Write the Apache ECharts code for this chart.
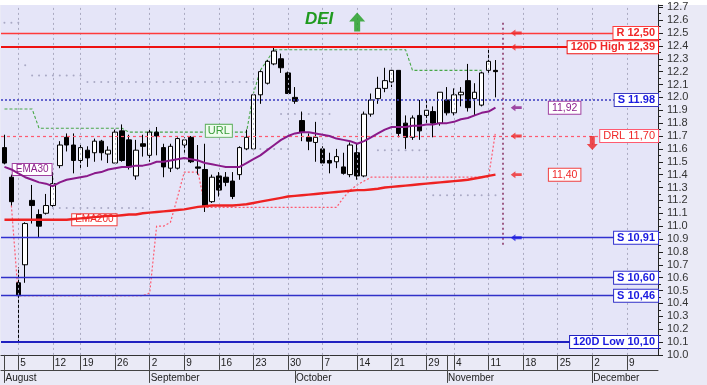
<!DOCTYPE html>
<html><head><meta charset="utf-8">
<script src="https://cdn.jsdelivr.net/npm/echarts@6/dist/echarts.min.js"></script>
<style>html,body{margin:0;padding:0;background:#fff}#c{width:707px;height:385px}</style>
</head><body><div id="c"></div>
<script>
// ---------- DATA ----------
const dates = [
 '2013-08-01','2013-08-02','2013-08-05','2013-08-06','2013-08-07','2013-08-08','2013-08-09','2013-08-12','2013-08-13','2013-08-14',
 '2013-08-15','2013-08-19','2013-08-20','2013-08-21','2013-08-22','2013-08-23','2013-08-26','2013-08-27','2013-08-28','2013-08-29',
 '2013-08-30','2013-09-02','2013-09-03','2013-09-04','2013-09-05','2013-09-06','2013-09-09','2013-09-10','2013-09-11','2013-09-12',
 '2013-09-13','2013-09-16','2013-09-17','2013-09-18','2013-09-19','2013-09-20','2013-09-23','2013-09-24','2013-09-25','2013-09-26',
 '2013-09-27','2013-09-30','2013-10-01','2013-10-02','2013-10-03','2013-10-04','2013-10-07','2013-10-08','2013-10-09','2013-10-10',
 '2013-10-11','2013-10-14','2013-10-15','2013-10-16','2013-10-17','2013-10-18','2013-10-21','2013-10-22','2013-10-23','2013-10-24',
 '2013-10-25','2013-10-29','2013-10-30','2013-10-31','2013-11-01','2013-11-04','2013-11-05','2013-11-06','2013-11-07','2013-11-08',
 '2013-11-11','2013-11-12','2013-11-13','2013-11-14','2013-11-15','2013-11-18','2013-11-19','2013-11-20','2013-11-21','2013-11-22',
 '2013-11-25','2013-11-26','2013-11-27','2013-11-28','2013-11-29','2013-12-02','2013-12-03','2013-12-04','2013-12-05','2013-12-06',
 '2013-12-09','2013-12-10','2013-12-11','2013-12-12','2013-12-13'
];
// [open, close, low, high]
const ohlc = [
 [11.61,11.49,11.48,11.71],[11.38,11.19,11.16,11.40],[10.56,10.46,10.10,10.68],[10.70,11.02,10.56,11.03],[11.20,11.16,11.02,11.32],
 [11.09,11.00,10.91,11.13],[11.10,11.16,11.09,11.25],[11.16,11.33,11.15,11.42],[11.47,11.63,11.45,11.66],[11.69,11.63,11.58,11.72],
 [11.63,11.51,11.41,11.72],[11.51,11.61,11.45,11.63],[11.59,11.53,11.46,11.62],[11.57,11.66,11.50,11.68],[11.66,11.57,11.51,11.67],
 [11.56,11.59,11.49,11.62],[11.49,11.73,11.49,11.75],[11.74,11.51,11.50,11.79],[11.67,11.46,11.44,11.71],[11.39,11.59,11.36,11.67],
 [11.64,11.62,11.54,11.71],[11.55,11.73,11.50,11.75],[11.73,11.70,11.55,11.77],[11.61,11.46,11.38,11.64],[11.45,11.62,11.42,11.64],
 [11.45,11.68,11.44,11.69],[11.63,11.67,11.57,11.69],[11.69,11.50,11.49,11.70],[11.46,11.45,11.40,11.63],[11.44,11.16,11.11,11.64],
 [11.19,11.38,11.18,11.40],[11.39,11.28,11.23,11.42],[11.38,11.34,11.31,11.42],[11.35,11.23,11.21,11.42],[11.40,11.61,11.36,11.62],
 [11.60,11.69,11.59,11.75],[11.60,12.02,11.59,12.03],[12.02,12.20,11.95,12.21],[12.11,12.28,12.10,12.29],[12.26,12.36,12.25,12.39],
 [12.30,12.23,12.19,12.34],[12.19,12.03,12.03,12.20],[12.00,11.97,11.95,12.08],[11.82,11.73,11.66,11.89],[11.69,11.66,11.59,11.72],
 [11.65,11.69,11.50,11.81],[11.60,11.49,11.47,11.62],[11.51,11.49,11.41,11.57],[11.50,11.54,11.45,11.60],[11.46,11.41,11.40,11.57],
 [11.40,11.63,11.38,11.65],[11.57,11.39,11.36,11.64],[11.39,11.87,11.38,11.89],[11.87,11.98,11.85,12.03],[11.99,12.07,11.95,12.16],
 [12.07,12.13,12.04,12.23],[12.12,12.21,12.08,12.23],[12.21,11.72,11.69,12.21],[11.80,11.69,11.60,11.86],[11.69,11.84,11.67,11.86],
 [11.86,11.74,11.67,11.98],[11.86,11.90,11.80,11.98],[11.89,11.80,11.69,11.93],[11.80,12.04,11.78,12.04],[11.98,11.88,11.86,12.08],
 [11.88,12.02,11.86,12.07],[12.02,12.04,11.93,12.08],[12.13,11.92,11.89,12.26],[11.99,12.04,11.86,12.11],[11.94,12.19,11.93,12.20],
 [12.21,12.28,12.19,12.37],[12.21,12.20,12.00,12.29]
];
const ema30 = [
 11.46,11.44,11.41,11.38,11.36,11.34,11.33,11.31,11.34,11.36,
 11.37,11.38,11.39,11.41,11.42,11.44,11.45,11.46,11.46,11.47,
 11.47,11.48,11.50,11.50,11.51,11.52,11.53,11.52,11.51,11.49,
 11.48,11.47,11.46,11.46,11.46,11.49,11.52,11.55,11.59,11.63,
 11.67,11.70,11.72,11.73,11.73,11.72,11.71,11.70,11.68,11.67,
 11.66,11.64,11.66,11.69,11.72,11.75,11.77,11.77,11.77,11.78,
 11.78,11.79,11.79,11.80,11.80,11.81,11.83,11.84,11.86,11.88,
 11.89,11.92
];
const ema200 = [
 11.05,11.05,11.05,11.05,11.05,11.05,11.05,11.05,11.05,11.05,
 11.055,11.06,11.065,11.07,11.075,11.08,11.08,11.085,11.09,11.09,
 11.10,11.105,11.11,11.115,11.12,11.125,11.13,11.14,11.15,11.155,
 11.16,11.16,11.16,11.16,11.165,11.17,11.18,11.19,11.20,11.21,
 11.22,11.23,11.235,11.24,11.245,11.25,11.255,11.26,11.265,11.27,
 11.275,11.28,11.28,11.285,11.29,11.30,11.305,11.31,11.315,11.32,
 11.325,11.33,11.335,11.34,11.345,11.35,11.355,11.36,11.37,11.38,
 11.39,11.40
];
const urlLine = [
 11.91,11.91,11.91,11.91,11.91,11.76,11.76,11.76,11.76,11.76,
 11.76,11.76,11.76,11.76,11.76,11.76,11.76,11.76,11.73,11.73,
 11.73,11.73,11.73,11.73,11.73,11.73,11.73,11.73,11.73,11.73,
 11.73,11.73,11.73,11.73,11.73,11.73,12.03,12.21,12.29,12.37,
 12.37,12.37,12.37,12.37,12.37,12.37,12.37,12.37,12.37,12.37,
 12.37,12.37,12.37,12.37,12.37,12.37,12.37,12.37,12.37,12.21,
 12.21,12.21,12.21,12.21,12.21,12.21,12.21,12.21,12.21,12.21,
 null,null
];
const drlTrail = [
 null,11.16,10.46,10.46,10.46,10.46,10.46,10.46,10.46,10.46,
 10.46,10.46,10.46,10.46,10.46,10.46,10.46,10.46,10.46,10.46,
 10.46,10.48,11.00,11.00,11.03,11.22,11.42,11.42,11.42,11.145,
 11.145,11.145,11.145,11.145,11.145,11.145,11.145,11.145,11.145,11.145,
 11.145,11.145,11.145,11.145,11.145,11.145,11.145,11.145,11.145,11.22,
 11.28,11.32,11.35,11.38,11.38,11.38,11.38,11.38,11.38,11.38,
 11.38,11.38,11.38,11.38,11.38,11.38,11.38,11.38,11.38,11.38,
 11.38,11.73
];
const dotsUpper = [
 12.58,12.58,12.58,12.25,12.17,12.17,12.17,12.17,12.17,12.17,
 12.17,12.17,12.12,12.12,12.12,12.12,12.12,12.12,12.12,12.12,
 12.12,12.12,12.12,12.12,12.12,12.12,12.12,12.12,12.12,12.12,
 12.12,12.12,12.12,12.12,12.12,12.12,12.12,null,null,null,
 11.87,11.87,11.87,11.87,11.87,11.87,11.87,11.87,null,null,
 null,null,null,null,null,null,null,null,null,null,
 null,null,null,null,null,null,null,null,null,null,
 null,null
];
const dotsLower = [
 null,null,null,null,null,null,null,11.14,11.14,11.14,
 11.14,11.14,11.14,11.14,11.14,11.14,11.14,11.14,11.14,11.14,
 11.14,null,null,null,null,null,null,null,null,null,
 null,null,null,null,null,null,null,11.60,11.60,11.60,
 11.60,11.60,null,null,null,null,null,null,null,null,
 null,null,null,null,11.59,11.59,11.59,11.59,11.59,11.59,
 11.59,11.59,11.24,11.24,11.24,11.24,11.24,11.24,11.24,11.24,
 11.24,11.24
];
const levelValues = [12.50, 12.39, 11.98, 11.70, 10.91, 10.60, 10.46, 10.10];
const levelLabels = ['R 12,50', '120D High 12,39', 'S 11.98', 'DRL 11,70', 'S 10,91', 'S 10,60', 'S 10,46', '120D Low 10,10'];
const arrowLevels = [12.50, 12.39, 11.92, 11.70, 11.40, 10.91];
const lastPrice = 12.20;
const weekLabelDates = ['2013-08-05','2013-08-12','2013-08-19','2013-08-26','2013-09-02','2013-09-09','2013-09-16',
 '2013-09-23','2013-09-30','2013-10-07','2013-10-14','2013-10-21','2013-10-29','2013-11-04','2013-11-11','2013-11-18',
 '2013-11-25','2013-12-02','2013-12-09'];
const monthStartDates = ['2013-08-01','2013-09-02','2013-10-01','2013-11-01','2013-12-02'];
const monthNames = ['August','September','October','November','December'];
const todayDate = '2013-11-13';
const arrowDate = '2013-11-15';

// ---------- STYLE ----------
const FONT = '"Liberation Sans", Arial, sans-serif';
const RED = '#f02828', BLUE = '#2a2ac8', PURPLE = '#8c1f8c', GREEN = '#3a9e3a', PINK = '#ff5a70';
const levelStyles = [
 {line:{color:'#ff3a3a', width:1.3, type:'solid'}, text:RED, bold:true},
 {line:{color:'#ee1111', width:2, type:'solid'}, text:RED, bold:true},
 {line:{color:'#3a3ac0', width:1.5, type:[2,2]}, text:'#1a1ae0', bold:true},
 {line:{color:PINK, width:1.2, type:[3,3]}, text:RED, bold:false},
 {line:{color:'#3030d0', width:1.3, type:'solid'}, text:'#1a1ae0', bold:true},
 {line:{color:'#3030c8', width:1.3, type:'solid'}, text:'#1a1ae0', bold:true},
 {line:{color:'#3030c8', width:1.3, type:'solid'}, text:'#1a1ae0', bold:true},
 {line:{color:'#2020c0', width:2, type:'solid'}, text:'#1a1ae0', bold:true}
];
const arrowColors = [RED, RED, PURPLE, RED, RED, '#1a1ae0'];

const weekSet = new Set(weekLabelDates);
const row1Ticks = new Set([...weekLabelDates, '2013-08-01', '2013-11-01']);
const monthSet = new Set(monthStartDates);
const toPts = arr => arr.map((v,i)=> v==null ? null : [dates[i], v]).filter(p=>p);
const comma = v => v.toFixed(2).replace('.', ',');

const leftArrow = 'path://M0,5 L6,0 L6,3 L14,3 L14,7 L6,7 L6,10 Z';
const upArrow = 'path://M8,0 L16,9 L11,9 L11,19 L5,19 L5,9 L0,9 Z';
const downArrow = 'path://M3,0 L8,0 L8,8 L11,8 L5.5,14 L0,8 L3,8 Z';

const boxLabel = (color, border, size, bold) => ({
  show:true, position:'inside', color:color, fontSize:size, fontFamily:FONT,
  fontWeight: bold ? 'bold' : 'normal', backgroundColor:'#fff', borderColor:border, borderWidth:1,
  padding:[1,3,0,3]
});

const chart = echarts.init(document.getElementById('c'), null, {renderer:'canvas', width:707, height:385});
const option = {
  animation:false,
  backgroundColor:'#eaeaf6',
  textStyle:{fontFamily:FONT},
  title:{text:'DEI', left:305, top:11, padding:0,
    textStyle:{color:'#1f9a1f', fontStyle:'italic', fontWeight:'bold', fontSize:17, fontFamily:FONT}},
  graphic:[{type:'rect', silent:true, z:-1, shape:{x:0,y:0,width:707,height:5}, style:{fill:'#ffffff'}}],
  grid:{left:1, right:49, top:5, bottom:30.1, show:true, backgroundColor:'#e5e5f8', borderWidth:0},
  xAxis:[
    {type:'category', data:dates, boundaryGap:true, position:'bottom',
     axisLine:{show:true, lineStyle:{color:'#333', width:1}},
     axisTick:{show:true, alignWithLabel:true, length:15, interval:(i,v)=>row1Ticks.has(v), lineStyle:{color:'#444'}},
     axisLabel:{show:true, interval:(i,v)=>weekSet.has(v), formatter:v=>String(parseInt(v.slice(8),10)),
       align:'left', margin:3, padding:[0,0,0,2], fontSize:10, color:'#222', fontFamily:FONT},
     splitLine:{show:false}},
    {type:'category', data:dates, boundaryGap:true, position:'bottom', offset:15,
     axisLine:{show:true, lineStyle:{color:'#444', width:1}},
     axisTick:{show:true, alignWithLabel:true, length:13, interval:(i,v)=>monthSet.has(v), lineStyle:{color:'#444'}},
     axisLabel:{show:true, interval:(i,v)=>monthSet.has(v), formatter:v=>monthNames[monthStartDates.indexOf(v)],
       align:'left', margin:3, padding:[0,0,0,1], fontSize:10, color:'#222', fontFamily:FONT},
     splitLine:{show:false}}
  ],
  yAxis:{type:'value', position:'right', min:10.0, max:12.7175, interval:0.1,
    axisLine:{show:true, lineStyle:{color:'#222'}},
    axisTick:{show:true, length:5, lineStyle:{color:'#222'}},
    minorTick:{show:true, splitNumber:2, length:3, lineStyle:{color:'#222'}},
    axisLabel:{fontSize:11, color:'#333', margin:9, fontFamily:FONT,
      formatter:v=> Math.abs(v*10-Math.round(v*10))<1e-3 ? v.toFixed(1) : ''},
    splitLine:{show:false}},
  series:[
    // vertical grid lines + today line
    {type:'line', data:[], z:0, silent:true,
     markLine:{silent:true, symbol:['none','none'], animation:false, label:{show:false},
       lineStyle:{color:'#aaaac0', type:[2,3], width:1},
       data: weekLabelDates.map(d=>({xAxis:d})).concat([[
         {coord:[todayDate, 12.58], lineStyle:{color:'#8a3a6a', type:[2,3], width:1.6}},
         {coord:[todayDate, 10.85]}
       ]])}},
    // gray dots
    {type:'scatter', data:toPts(dotsUpper), symbol:'circle', symbolSize:2, z:1, silent:true, itemStyle:{color:'#9a9ab8'}},
    {type:'scatter', data:toPts(dotsLower), symbol:'circle', symbolSize:2, z:1, silent:true, itemStyle:{color:'#9a9ab8'}},
    // DRL trailing line
    {type:'line', data:drlTrail, symbol:'none', z:1, silent:true, connectNulls:false,
     lineStyle:{color:PINK, type:[2,2], width:1.2}},
    // URL line
    {type:'line', data:urlLine, symbol:'none', z:2, silent:true, connectNulls:false,
     lineStyle:{color:'#48a848', type:[3,2], width:1.1},
     markPoint:{silent:true, symbol:'rect', symbolSize:1, itemStyle:{color:'rgba(0,0,0,0)'},
       data:[{coord:[dates[31], 11.74], label:Object.assign(boxLabel(GREEN,'#60b060',11,false),{formatter:'URL', backgroundColor:'#effbee', padding:[1,2,0,2]})}]}},
    // candles
    {type:'candlestick', data:ohlc, barWidth:5, z:3, silent:true,
     itemStyle:{color:'#ffffff', color0:'#000000', borderColor:'#000000', borderColor0:'#000000', borderWidth:1},
     markLine:{silent:true, symbol:['none','none'], animation:false,
       data:[{yAxis:lastPrice, lineStyle:{opacity:0, width:0},
         label:{show:true, position:'end', distance:3, formatter:lastPrice.toFixed(5), backgroundColor:'#000',
           color:'#ff2a2a', fontSize:11, fontFamily:FONT, padding:[2,1,1,1]}}]}},
    // EMA200
    {type:'line', data:ema200, symbol:'none', z:5, silent:true, lineStyle:{color:'#ee2222', width:2.4},
     markPoint:{silent:true, symbol:'rect', symbolSize:1, itemStyle:{color:'rgba(0,0,0,0)'},
       data:[
         {coord:[dates[13], 11.05], label:Object.assign(boxLabel(RED,'#f04040',10,false),{formatter:'EMA200'})},
         {coord:[dates[81], ema200[ema200.length-1]], label:Object.assign(boxLabel(RED,'#f04040',10.5,false),{formatter:comma(ema200[ema200.length-1])})}
       ]}},
    // EMA30
    {type:'line', data:ema30, symbol:'none', z:5, silent:true, lineStyle:{color:'#8a1a8a', width:2},
     markPoint:{silent:true, symbol:'rect', symbolSize:1, itemStyle:{color:'rgba(0,0,0,0)'},
       data:[
         {coord:[dates[4], 11.44], label:Object.assign(boxLabel(PURPLE,'#a040a0',10,false),{formatter:'EMA30'})},
         {coord:[dates[81], ema30[ema30.length-1]], label:Object.assign(boxLabel(PURPLE,'#a040a0',10.5,false),{formatter:comma(ema30[ema30.length-1])})}
       ]}},
    // level lines
    {type:'line', data:[], z:6, silent:true,
     markLine:{silent:true, symbol:['none','none'], animation:false,
       data: levelValues.map((v,i)=>({yAxis:v, lineStyle:levelStyles[i].line,
         label:{show:true, position:'insideEnd', distance:0, formatter:levelLabels[i],
           color:levelStyles[i].text, fontSize:11, fontFamily:FONT, fontWeight:levelStyles[i].bold?'bold':'normal',
           backgroundColor:'#fff', borderColor:levelStyles[i].line.color, borderWidth:1, padding:[1,3,0,3]}}))}},
    // small level arrows
    {type:'scatter', z:7, silent:true, symbol:leftArrow, symbolSize:[11,7],
     data: arrowLevels.map((v,i)=>({value:[arrowDate, v], itemStyle:{color:arrowColors[i]}}))},
    // big direction arrows
    {type:'scatter', z:7, silent:true,
     data:[
       {value:[dates[51], 12.585], symbol:upArrow, symbolSize:[16,19], itemStyle:{color:'#1e9e1e'}},
       {value:[dates[85], 11.645], symbol:downArrow, symbolSize:[11,14], itemStyle:{color:'#ee2222'}}
     ]}
  ]
};
chart.setOption(option);
</script>
</body></html>
